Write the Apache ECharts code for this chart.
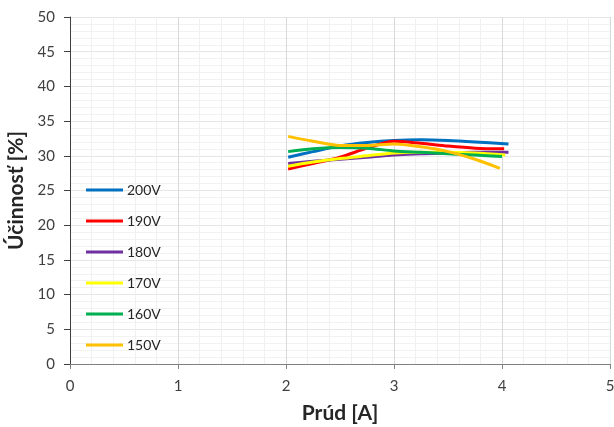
<!DOCTYPE html>
<html>
<head>
<meta charset="utf-8">
<script src="https://cdn.jsdelivr.net/npm/echarts@6/dist/echarts.min.js"></script>
<style>
  html, body { margin: 0; padding: 0; background: #fff; }
  #chart { width: 614px; height: 427px; }
</style>
</head>
<body>
<div id="chart"></div>
<script>
// Efficiency vs. current for each supply voltage
const seriesNames = ['200V', '190V', '180V', '170V', '160V', '150V'];
const seriesColors = ['#0070C0', '#FF0000', '#7030A0', '#FFFF00', '#00B050', '#FFC000'];

const current200 = [2.02, 2.25, 2.5, 2.75, 3.0, 3.25, 3.5, 3.75, 4.06];
const eff200 = [29.8, 30.6, 31.4, 31.9, 32.2, 32.3, 32.2, 32.0, 31.7];

const current190 = [2.02, 2.25, 2.5, 2.75, 3.0, 3.25, 3.5, 3.75, 4.02];
const eff190 = [28.1, 28.9, 29.8, 31.1, 32.1, 31.8, 31.4, 31.1, 31.0];

const current180 = [2.02, 2.25, 2.5, 2.75, 3.0, 3.25, 3.5, 3.75, 4.06];
const eff180 = [28.9, 29.2, 29.5, 29.8, 30.1, 30.3, 30.4, 30.5, 30.5];

const current170 = [2.02, 2.25, 2.5, 2.75, 3.0, 3.25, 3.5, 3.75, 4.03];
const eff170 = [28.5, 29.1, 29.6, 30.0, 30.4, 30.5, 30.5, 30.4, 30.1];

const current160 = [2.02, 2.25, 2.5, 2.75, 3.0, 3.25, 3.5, 3.75, 4.0];
const eff160 = [30.6, 31.0, 31.2, 31.1, 30.7, 30.5, 30.3, 30.1, 29.9];

const current150 = [2.02, 2.25, 2.5, 2.75, 3.0, 3.25, 3.5, 3.75, 3.98];
const eff150 = [32.8, 32.1, 31.5, 31.5, 31.7, 31.3, 30.6, 29.5, 28.2];

const xs = [current200, current190, current180, current170, current160, current150];
const ys = [eff200, eff190, eff180, eff170, eff160, eff150];

const font = 'Lato, "Liberation Sans", sans-serif';

const series = seriesNames.map((name, i) => ({
  name: name,
  type: 'line',
  smooth: 0.3,
  showSymbol: false,
  symbol: 'none',
  lineStyle: { width: 3, color: seriesColors[i] },
  itemStyle: { color: seriesColors[i] },
  data: xs[i].map((x, k) => [x, ys[i][k]])
}));

const chart = echarts.init(document.getElementById('chart'), null, { renderer: 'canvas' });
chart.setOption({
  animation: false,
  backgroundColor: '#ffffff',
  grid: { left: 70, right: 4, top: 17, bottom: 63, containLabel: false, outerBoundsMode: 'none' },
  legend: {
    orient: 'vertical',
    left: 81,
    top: 178,
    itemWidth: 37,
    itemHeight: 3,
    itemGap: 17,
    icon: 'rect',
    textStyle: { fontFamily: font, fontSize: 14, color: '#262626', padding: [0, 0, 0, -1] },
    data: seriesNames
  },
  xAxis: {
    type: 'value',
    min: 0, max: 5, interval: 1,
    name: 'Prúd [A]',
    nameLocation: 'middle',
    nameGap: 39,
    nameTextStyle: { fontFamily: font, fontSize: 21, fontWeight: 'bold', color: '#262626' },
    axisLine: { show: true, onZero: false, lineStyle: { color: '#808080', width: 1 } },
    axisTick: { show: true, length: 5, inside: false, lineStyle: { color: '#808080' } },
    axisLabel: { fontFamily: font, fontSize: 15, color: '#404040', margin: 15 },
    splitLine: { show: true, lineStyle: { color: '#D9D9D9', width: 1 } },
    minorTick: { show: false, splitNumber: 5 },
    minorSplitLine: { show: true, lineStyle: { color: '#F0F0F0', width: 1 } }
  },
  yAxis: {
    type: 'value',
    min: 0, max: 50, interval: 5,
    name: 'Účinnosť [%]',
    nameLocation: 'middle',
    nameGap: 37,
    nameRotate: 90,
    nameTextStyle: { fontFamily: font, fontSize: 21, fontWeight: 'bold', color: '#262626' },
    axisLine: { show: true, lineStyle: { color: '#404040', width: 1 } },
    axisTick: { show: true, length: 6, inside: false, lineStyle: { color: '#404040' } },
    axisLabel: { fontFamily: font, fontSize: 15, color: '#404040', margin: 15 },
    splitLine: { show: true, lineStyle: { color: '#E6E6E6', width: 1 } },
    minorTick: { show: false, splitNumber: 5 },
    minorSplitLine: { show: true, lineStyle: { color: '#F2F2F2', width: 1 } }
  },
  series: series
});
</script>
</body>
</html>
